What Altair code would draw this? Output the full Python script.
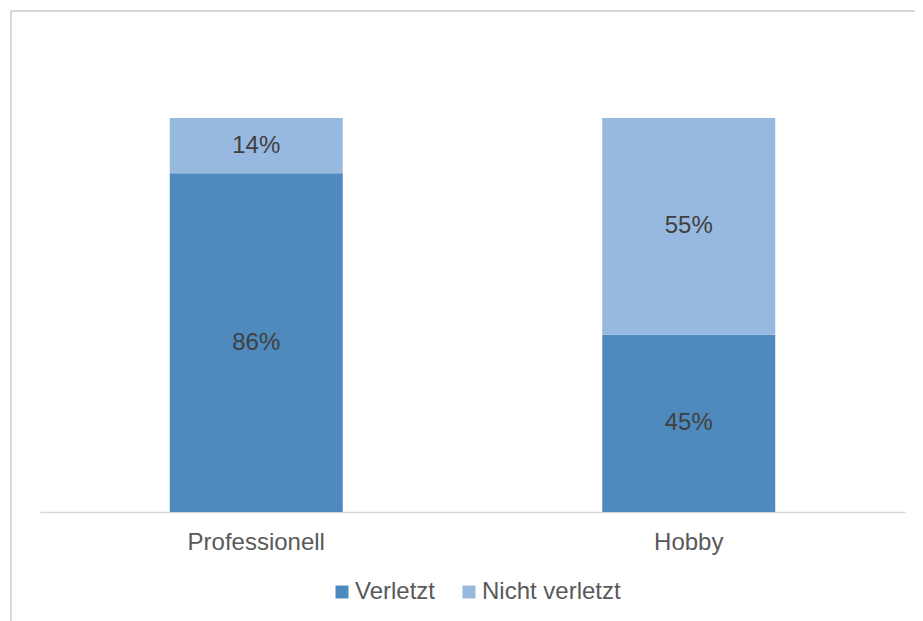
import altair as alt
import pandas as pd

groups = ["Professionell", "Professionell", "Hobby", "Hobby"]
status = ["Verletzt", "Nicht verletzt", "Verletzt", "Nicht verletzt"]
values = [86, 14, 45, 55]
order_idx = [1, 2, 1, 2]

df = pd.DataFrame({"Gruppe": groups, "Status": status, "Wert": values, "ord": order_idx})

W, H = 865, 394
FONT = "Liberation Sans"

x_enc = alt.X("Gruppe:N", sort=["Professionell", "Hobby"],
              scale=alt.Scale(paddingInner=0.6, paddingOuter=0.3),
              axis=alt.Axis(title=None, labelAngle=0, ticks=False, domainColor="#d9d9d9",
                            domainWidth=1.5, labelFontSize=24, labelColor="#595959",
                            labelFont=FONT, labelPadding=18, grid=False))

bars = alt.Chart(df).mark_bar().encode(
    x=x_enc,
    y=alt.Y("Wert:Q", stack="zero", scale=alt.Scale(domain=[0, 100], nice=False),
            axis=None),
    color=alt.Color("Status:N", sort=["Verletzt", "Nicht verletzt"],
                    scale=alt.Scale(domain=["Verletzt", "Nicht verletzt"],
                                    range=["#4F8ABE", "#98B9DF"]),
                    legend=alt.Legend(title=None, orient="none", legendX=290, legendY=462,
                                      direction="horizontal", symbolType="square",
                                      symbolSize=169, symbolStrokeWidth=0,
                                      labelFontSize=24, labelColor="#595959", labelFont=FONT,
                                      columnPadding=21, symbolOffset=0, labelOffset=1)),
    order=alt.Order("ord:Q", sort="ascending"),
)

labels = alt.Chart(df).transform_stack(
    stack="Wert", groupby=["Gruppe"], as_=["lo", "hi"],
    sort=[alt.SortField("ord", order="ascending")]
).transform_calculate(
    mid="(datum.lo + datum.hi) / 2",
    lab="datum.Wert + '%'"
).mark_text(fontSize=24, color="#404040", font=FONT, baseline="middle").encode(
    x=alt.X("Gruppe:N", sort=["Professionell", "Hobby"]),
    y=alt.Y("mid:Q"),
    text="lab:N",
)

border = alt.Chart(pd.DataFrame({"a": [0]})).mark_rect(
    fill=None, stroke="#d9d9d9", strokeWidth=2
).encode(
    x=alt.value(-29), x2=alt.value(W + 200),
    y=alt.value(-107), y2=alt.value(H + 300),
)

chart = alt.layer(border, bars, labels).properties(
    width=W, height=H,
    background="white",
    autosize=alt.AutoSizeParams(type="none"),
    padding={"left": 32, "top": 110, "right": 10, "bottom": 109},
).configure_view(strokeWidth=0)

chart.save("out.html", embed_options={"renderer": "svg", "actions": False})
